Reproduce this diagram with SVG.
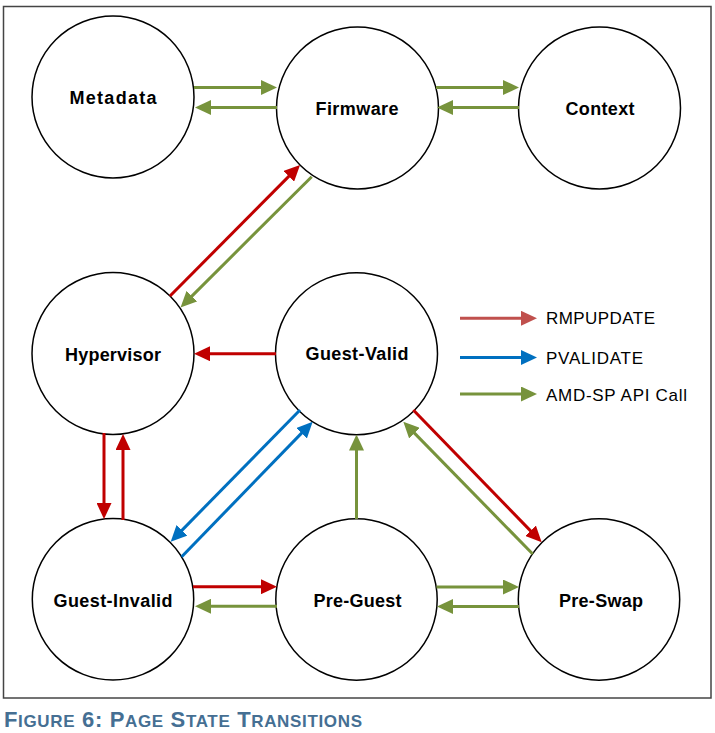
<svg xmlns="http://www.w3.org/2000/svg" width="715" height="733" viewBox="0 0 715 733">
<style>
.node circle{fill:#fff;stroke:#000;stroke-width:1.5}
.node text{font-family:"Liberation Sans",Arial,sans-serif;font-weight:bold;font-size:18px;text-anchor:middle;fill:#000}
.c line{fill:none;stroke-width:3}
.r{stroke:#C00000}
.g{stroke:#77933C}
.b{stroke:#0070C0}
.lr{stroke:#C0504D}
.leg text{font-family:"Liberation Sans",Arial,sans-serif;font-size:17px;fill:#000}
.cap{font-family:"Liberation Sans",Arial,sans-serif;font-weight:bold;fill:#456F93}
</style>
<defs>
<marker id="ar" markerUnits="userSpaceOnUse" markerWidth="16" markerHeight="15" refX="6" refY="7.5" orient="auto" viewBox="0 0 16 15"><path d="M0,0L16,7.5L0,15z" fill="#C00000"/></marker>
<marker id="ag" markerUnits="userSpaceOnUse" markerWidth="16" markerHeight="15" refX="6" refY="7.5" orient="auto" viewBox="0 0 16 15"><path d="M0,0L16,7.5L0,15z" fill="#77933C"/></marker>
<marker id="ab" markerUnits="userSpaceOnUse" markerWidth="16" markerHeight="15" refX="6" refY="7.5" orient="auto" viewBox="0 0 16 15"><path d="M0,0L16,7.5L0,15z" fill="#0070C0"/></marker>
<marker id="alr" markerUnits="userSpaceOnUse" markerWidth="16" markerHeight="15" refX="6" refY="7.5" orient="auto" viewBox="0 0 16 15"><path d="M0,0L16,7.5L0,15z" fill="#C0504D"/></marker>
</defs>
<rect x="3.5" y="6.5" width="707.5" height="691.5" fill="#fff" stroke="#444" stroke-width="1.5"/>

<g id="metadata" class="node"><circle cx="113" cy="97" r="81"/><text x="113" y="104" textLength="87" lengthAdjust="spacing">Metadata</text></g>
<g id="firmware" class="node"><circle cx="357.5" cy="108" r="81"/><text x="357" y="114.5" textLength="83" lengthAdjust="spacing">Firmware</text></g>
<g id="context" class="node"><circle cx="599.5" cy="108" r="81"/><text x="600" y="115" textLength="69" lengthAdjust="spacing">Context</text></g>
<g id="hypervisor" class="node"><circle cx="113" cy="353.5" r="81"/><text x="113" y="360.5" textLength="96" lengthAdjust="spacing">Hypervisor</text></g>
<g id="guest-valid" class="node"><circle cx="356.5" cy="353.7" r="81"/><text x="357" y="360" textLength="103" lengthAdjust="spacing">Guest-Valid</text></g>
<g id="guest-invalid" class="node"><circle cx="113" cy="599.3" r="80.7"/><text x="113" y="606.7" textLength="119" lengthAdjust="spacing">Guest-Invalid</text></g>
<g id="pre-guest" class="node"><circle cx="356.5" cy="599.5" r="80.7"/><text x="357.5" y="606.7" textLength="88" lengthAdjust="spacing">Pre-Guest</text></g>
<g id="pre-swap" class="node"><circle cx="599" cy="599.5" r="80.7"/><text x="601" y="606.7" textLength="84" lengthAdjust="spacing">Pre-Swap</text></g>

<g id="connectors" class="c">
<line class="g" x1="194" y1="87.5" x2="267" y2="87.5" marker-end="url(#ag)"/>
<line class="g" x1="277" y1="107.5" x2="205" y2="107.5" marker-end="url(#ag)"/>
<line class="g" x1="436" y1="87.5" x2="509" y2="87.5" marker-end="url(#ag)"/>
<line class="g" x1="519" y1="107.5" x2="447" y2="107.5" marker-end="url(#ag)"/>
<line class="r" x1="170" y1="296" x2="293" y2="172.1" marker-end="url(#ar)" stroke-width="2.5"/>
<line class="g" x1="311.7" y1="176.7" x2="187.6" y2="300.4" marker-end="url(#ag)" stroke-width="2.5"/>
<line class="r" x1="276" y1="353.7" x2="204" y2="353.7" marker-end="url(#ar)"/>
<line class="r" x1="104" y1="433" x2="104" y2="509" marker-end="url(#ar)"/>
<line class="r" x1="123" y1="520" x2="123" y2="444" marker-end="url(#ar)"/>
<line class="b" x1="300" y1="410" x2="177.7" y2="534.6" marker-end="url(#ab)" stroke-width="2.5"/>
<line class="b" x1="181.7" y1="556.7" x2="305.7" y2="428.9" marker-end="url(#ab)" stroke-width="2.5"/>
<line class="r" x1="193" y1="586.7" x2="267" y2="586.7" marker-end="url(#ar)"/>
<line class="g" x1="277" y1="606.3" x2="205" y2="606.3" marker-end="url(#ag)"/>
<line class="g" x1="356.5" y1="519" x2="356.5" y2="444.5" marker-end="url(#ag)" stroke-width="2.5"/>
<line class="r" x1="413.3" y1="410" x2="534.7" y2="535.1" marker-end="url(#ar)" stroke-width="2.5"/>
<line class="g" x1="532.7" y1="554" x2="410.3" y2="428.9" marker-end="url(#ag)" stroke-width="2.5"/>
<line class="g" x1="436.5" y1="587" x2="509" y2="587" marker-end="url(#ag)"/>
<line class="g" x1="519" y1="606.5" x2="447" y2="606.5" marker-end="url(#ag)"/>
</g>

<g id="legend" class="leg">
<g class="c">
<line class="lr" x1="460" y1="318.3" x2="527" y2="318.3" marker-end="url(#alr)"/>
<line class="b" x1="460" y1="357.5" x2="527" y2="357.5" marker-end="url(#ab)"/>
<line class="g" x1="460" y1="394" x2="527" y2="394" marker-end="url(#ag)"/>
</g>
<text x="546" y="324.3" textLength="109" lengthAdjust="spacing">RMPUPDATE</text>
<text x="546" y="363.5" textLength="97" lengthAdjust="spacing">PVALIDATE</text>
<text x="546" y="400.5" textLength="141" lengthAdjust="spacing">AMD-SP API Call</text>
</g>

<text class="cap" x="4" y="726.7" textLength="358" lengthAdjust="spacing"><tspan font-size="22">F</tspan><tspan font-size="17">IGURE</tspan><tspan font-size="22"> 6: P</tspan><tspan font-size="17">AGE</tspan><tspan font-size="22"> S</tspan><tspan font-size="17">TATE</tspan><tspan font-size="22"> T</tspan><tspan font-size="17">RANSITIONS</tspan></text>
</svg>
